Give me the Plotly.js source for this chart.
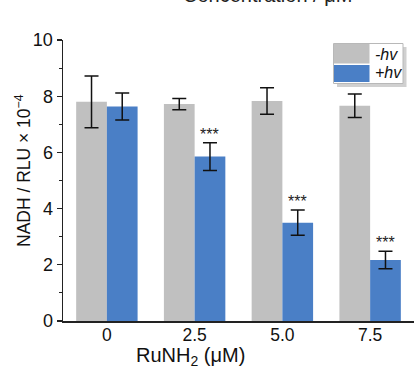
<!DOCTYPE html>
<html>
<head>
<meta charset="utf-8">
<script src="https://cdn.plot.ly/plotly-3.0.1.min.js"></script>
<style>html,body{margin:0;padding:0;background:#fff;}#chart{width:418px;height:370px;}</style>
</head>
<body>
<div id="chart"></div>
<script>
var concentrations = ['0', '2.5', '5.0', '7.5'];
var darkValues = [7.80, 7.72, 7.83, 7.66];
var darkErrors = [0.92, 0.20, 0.47, 0.42];
var lightValues = [7.63, 5.85, 3.50, 2.17];
var lightErrors = [0.48, 0.49, 0.45, 0.31];
var significance = ['', '***', '***', '***'];
var seriesNames = ['-hv', '+hv'];
var xTitle = 'RuNH<sub>2</sub> (μM)';
var yTitle = 'NADH / RLU × 10<sup>−4</sup>';
var heading = 'Concentration / μM';

var grey = '#c0c0c0';
var blue = '#4a7fc6';
var font = 'Liberation Sans, Arial, sans-serif';

var traces = [
  {type: 'bar', name: seriesNames[0], x: concentrations, y: darkValues,
   marker: {color: grey},
   error_y: {type: 'data', array: darkErrors, visible: true, color: '#111', thickness: 1.5, width: 7},
   showlegend: false},
  {type: 'bar', name: seriesNames[1], x: concentrations, y: lightValues,
   marker: {color: blue},
   error_y: {type: 'data', array: lightErrors, visible: true, color: '#111', thickness: 1.5, width: 7},
   showlegend: false}
];

function px(xp) { return (xp - 63) / (414 - 63); }
function py(yp) { return (321 - yp) / (321 - 40); }

var annotations = [];
for (var i = 0; i < concentrations.length; i++) {
  if (significance[i]) {
    annotations.push({xref: 'x', yref: 'y', x: i + 0.175, y: lightValues[i] + lightErrors[i],
      text: significance[i], showarrow: false, yanchor: 'bottom', yshift: -2,
      font: {family: font, size: 16, color: '#222'}});
  }
}
// cut-off heading at top
annotations.push({xref: 'paper', yref: 'paper', x: px(267), y: py(8), xanchor: 'center', yanchor: 'bottom',
  text: heading, showarrow: false, font: {family: font, size: 20, color: '#222'}});
// axis titles
annotations.push({xref: 'paper', yref: 'paper', x: px(190), y: py(356), xanchor: 'center', yanchor: 'middle',
  text: xTitle, showarrow: false, font: {family: font, size: 20, color: '#111'}});
annotations.push({xref: 'paper', yref: 'paper', x: px(23), y: py(171), xanchor: 'center', yanchor: 'middle',
  text: yTitle, textangle: -90, showarrow: false, font: {family: font, size: 17.5, color: '#111'}});
// legend texts
annotations.push({xref: 'paper', yref: 'paper', x: px(373), y: py(54.5), xanchor: 'left', yanchor: 'middle',
  text: '<i>' + seriesNames[0] + '</i>', showarrow: false, font: {family: font, size: 16, color: '#111'}});
annotations.push({xref: 'paper', yref: 'paper', x: px(373), y: py(73), xanchor: 'left', yanchor: 'middle',
  text: '<i>' + seriesNames[1] + '</i>', showarrow: false, font: {family: font, size: 16, color: '#111'}});

var shapes = [
  {type: 'rect', xref: 'paper', yref: 'paper', x0: px(337), x1: px(406.5), y0: py(87), y1: py(47),
   fillcolor: '#d0d0d0', line: {width: 0}, layer: 'above'},
  {type: 'rect', xref: 'paper', yref: 'paper', x0: px(333.5), x1: px(403), y0: py(83.5), y1: py(43.5),
   fillcolor: '#ffffff', line: {width: 1, color: '#b8b8b8'}, layer: 'above'},
  {type: 'rect', xref: 'paper', yref: 'paper', x0: px(334), x1: px(369.5), y0: py(63.5), y1: py(44),
   fillcolor: grey, line: {width: 0}, layer: 'above'},
  {type: 'rect', xref: 'paper', yref: 'paper', x0: px(334), x1: px(369.5), y0: py(82), y1: py(65),
   fillcolor: blue, line: {width: 0}, layer: 'above'}
];

var layout = {
  width: 418, height: 370,
  margin: {l: 63, r: 4, t: 40, b: 49},
  paper_bgcolor: '#fff', plot_bgcolor: '#fff',
  barmode: 'group', bargap: 0.3, bargroupgap: 0,
  showlegend: false,
  font: {family: font, color: '#111'},
  xaxis: {
    type: 'category', showgrid: false, zeroline: false,
    showline: true, linecolor: '#222', linewidth: 1.5,
    ticks: '', ticklabelstandoff: -3, tickfont: {family: font, size: 17.5, color: '#111'}
  },
  yaxis: {
    range: [0, 10], dtick: 2, showgrid: false, zeroline: false,
    showline: true, linecolor: '#222', linewidth: 1.5,
    ticks: 'outside', ticklen: 5, tickwidth: 1.2, tickcolor: '#222',
    minor: {dtick: 1, ticks: 'outside', ticklen: 3, tickwidth: 1, tickcolor: '#222'},
    tickfont: {family: font, size: 18, color: '#111'}
  },
  annotations: annotations,
  shapes: shapes
};

Plotly.newPlot('chart', traces, layout, {staticPlot: true, displayModeBar: false});
</script>
</body>
</html>
